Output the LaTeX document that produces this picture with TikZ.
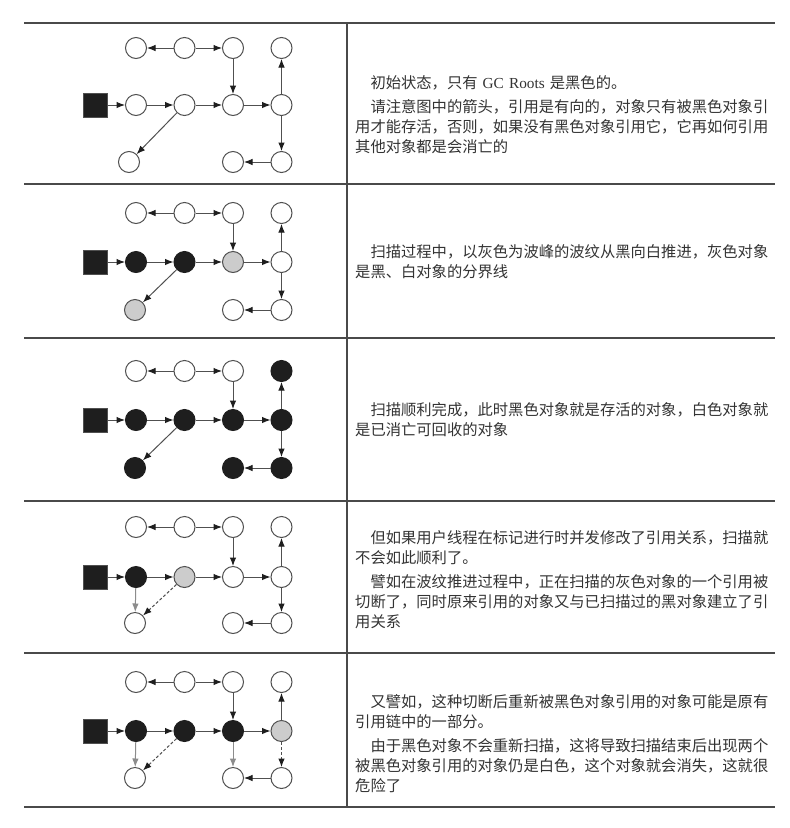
\documentclass[tikz,border=0pt]{standalone}
\usepackage{fontspec}
\setmainfont{Liberation Serif}
\newfontfamily\cjk{Noto Sans CJK SC}
\usetikzlibrary{arrows.meta}

\definecolor{rulegray}{HTML}{4A4A4A}
\definecolor{edgegray}{HTML}{505050}
\definecolor{newgray}{HTML}{8C8C8C}
\definecolor{objblack}{HTML}{1E1E1E}
\definecolor{objgray}{HTML}{CCCCCC}
\definecolor{textgray}{HTML}{333333}

\begin{document}
\begin{tikzpicture}[x=1pt, y=-1pt,
    obj/.style={circle, draw=edgegray, line width=1pt, minimum size=21pt, inner sep=0pt, fill=white},
    blackobj/.style={obj, fill=objblack, draw=objblack},
    grayobj/.style={obj, fill=objgray},
    root/.style={rectangle, draw=edgegray, fill=objblack, minimum size=24pt, inner sep=0pt, line width=0.6pt},
    ref/.style={draw=edgegray, line width=1pt, -{Latex[length=8.5pt, width=6.5pt, color=objblack]}},
    newref/.style={draw=newgray, line width=1pt, -{Latex[length=8.5pt, width=6.5pt]}},
    cutref/.style={ref, dash pattern=on 3pt off 2pt},
    note/.style={anchor=west, inner sep=0pt, text width=420pt, align=left, text=textgray,
      font={\cjk\fontsize{15.3pt}{20pt}\selectfont}}]
    \fill[white] (0,0) rectangle (790,828);
    \useasboundingbox (0,0) rectangle (790,828);

    % table rules
    \draw[rulegray, line width=2.2pt] (24,23) -- (775,23);
    \draw[rulegray, line width=1.4pt] (24,184) -- (775,184);
    \draw[rulegray, line width=1.4pt] (24,338) -- (775,338);
    \draw[rulegray, line width=1.4pt] (24,501) -- (775,501);
    \draw[rulegray, line width=1.4pt] (24,653) -- (775,653);
    \draw[rulegray, line width=2.2pt] (24,807) -- (775,807);
    \draw[rulegray, line width=1.2pt] (347,23) -- (347,807);

    % initial state
    \begin{scope}[name prefix=s1-]
    \node[root] (gc) at (95.5,105) {};
    \node[obj] (t1) at (136,48) {};
    \node[obj] (t2) at (184.5,48) {};
    \node[obj] (t3) at (233,48) {};
    \node[obj] (t4) at (281.5,48) {};
    \node[obj] (a1) at (136,105) {};
    \node[obj] (a2) at (184.5,105) {};
    \node[obj] (a3) at (233,105) {};
    \node[obj] (a4) at (281.5,105) {};
    \node[obj] (b1) at (129,162) {};
    \node[obj] (b3) at (233,162) {};
    \node[obj] (b4) at (281.5,162) {};
    \draw[ref] (gc) -- (a1);
    \draw[ref] (a1) -- (a2);
    \draw[ref] (a2) -- (a3);
    \draw[ref] (a3) -- (a4);
    \draw[ref] (t2) -- (t1);
    \draw[ref] (t2) -- (t3);
    \draw[ref] (t3) -- (a3);
    \draw[ref] (a4) -- (t4);
    \draw[ref] (a4) -- (b4);
    \draw[ref] (b4) -- (b3);
    \draw[ref] (a2) -- (b1);
    \node[note] (txt) at (355,115) {　初始状态，只有 {\rmfamily GC Roots} 是黑色的。\\[4pt]
      　请注意图中的箭头，引用是有向的，对象只有被黑色对象引\\
      用才能存活，否则，如果没有黑色对象引用它，它再如何引用\\
      其他对象都是会消亡的};
    \end{scope}

    % scanning
    \begin{scope}[name prefix=s2-]
    \node[root] (gc) at (95.5,262) {};
    \node[obj] (t1) at (136,213) {};
    \node[obj] (t2) at (184.5,213) {};
    \node[obj] (t3) at (233,213) {};
    \node[obj] (t4) at (281.5,213) {};
    \node[blackobj] (a1) at (136,262) {};
    \node[blackobj] (a2) at (184.5,262) {};
    \node[grayobj] (a3) at (233,262) {};
    \node[obj] (a4) at (281.5,262) {};
    \node[grayobj] (b1) at (135,310) {};
    \node[obj] (b3) at (233,310) {};
    \node[obj] (b4) at (281.5,310) {};
    \draw[ref] (gc) -- (a1);
    \draw[ref] (a1) -- (a2);
    \draw[ref] (a2) -- (a3);
    \draw[ref] (a3) -- (a4);
    \draw[ref] (t2) -- (t1);
    \draw[ref] (t2) -- (t3);
    \draw[ref] (t3) -- (a3);
    \draw[ref] (a4) -- (t4);
    \draw[ref] (a4) -- (b4);
    \draw[ref] (b4) -- (b3);
    \draw[ref] (a2) -- (b1);
    \node[note] (txt) at (355,262) {　扫描过程中，以灰色为波峰的波纹从黑向白推进，灰色对象\\
      是黑、白对象的分界线};
    \end{scope}

    % scan finished
    \begin{scope}[name prefix=s3-]
    \node[root] (gc) at (95.5,420) {};
    \node[obj] (t1) at (136,371) {};
    \node[obj] (t2) at (184.5,371) {};
    \node[obj] (t3) at (233,371) {};
    \node[blackobj] (t4) at (281.5,371) {};
    \node[blackobj] (a1) at (136,420) {};
    \node[blackobj] (a2) at (184.5,420) {};
    \node[blackobj] (a3) at (233,420) {};
    \node[blackobj] (a4) at (281.5,420) {};
    \node[blackobj] (b1) at (135,468) {};
    \node[blackobj] (b3) at (233,468) {};
    \node[blackobj] (b4) at (281.5,468) {};
    \draw[ref] (gc) -- (a1);
    \draw[ref] (a1) -- (a2);
    \draw[ref] (a2) -- (a3);
    \draw[ref] (a3) -- (a4);
    \draw[ref] (t2) -- (t1);
    \draw[ref] (t2) -- (t3);
    \draw[ref] (t3) -- (a3);
    \draw[ref] (a4) -- (t4);
    \draw[ref] (a4) -- (b4);
    \draw[ref] (b4) -- (b3);
    \draw[ref] (a2) -- (b1);
    \node[note] (txt) at (355,420) {　扫描顺利完成，此时黑色对象就是存活的对象，白色对象就\\
      是已消亡可回收的对象};
    \end{scope}

    % concurrent change
    \begin{scope}[name prefix=s4-]
    \node[root] (gc) at (95.5,577) {};
    \node[obj] (t1) at (136,527) {};
    \node[obj] (t2) at (184.5,527) {};
    \node[obj] (t3) at (233,527) {};
    \node[obj] (t4) at (281.5,527) {};
    \node[blackobj] (a1) at (136,577) {};
    \node[grayobj] (a2) at (184.5,577) {};
    \node[obj] (a3) at (233,577) {};
    \node[obj] (a4) at (281.5,577) {};
    \node[obj] (b1) at (135,623) {};
    \node[obj] (b3) at (233,623) {};
    \node[obj] (b4) at (281.5,623) {};
    \draw[ref] (gc) -- (a1);
    \draw[ref] (a1) -- (a2);
    \draw[ref] (a2) -- (a3);
    \draw[ref] (a3) -- (a4);
    \draw[ref] (t2) -- (t1);
    \draw[ref] (t2) -- (t3);
    \draw[ref] (t3) -- (a3);
    \draw[ref] (a4) -- (t4);
    \draw[ref] (a4) -- (b4);
    \draw[ref] (b4) -- (b3);
    \draw[newref] (a1) -- (b1);
    \draw[cutref] (a2) -- (b1);
    \node[note] (txt) at (355,580) {　但如果用户线程在标记进行时并发修改了引用关系，扫描就\\
      不会如此顺利了。\\[4pt]
      　譬如在波纹推进过程中，正在扫描的灰色对象的一个引用被\\
      切断了，同时原来引用的对象又与已扫描过的黑对象建立了引\\
      用关系};
    \end{scope}

    % lost object
    \begin{scope}[name prefix=s5-]
    \node[root] (gc) at (95.5,731) {};
    \node[obj] (t1) at (136,682) {};
    \node[obj] (t2) at (184.5,682) {};
    \node[obj] (t3) at (233,682) {};
    \node[obj] (t4) at (281.5,682) {};
    \node[blackobj] (a1) at (136,731) {};
    \node[blackobj] (a2) at (184.5,731) {};
    \node[blackobj] (a3) at (233,731) {};
    \node[grayobj] (a4) at (281.5,731) {};
    \node[obj] (b1) at (135,778) {};
    \node[obj] (b3) at (233,778) {};
    \node[obj] (b4) at (281.5,778) {};
    \draw[ref] (gc) -- (a1);
    \draw[ref] (a1) -- (a2);
    \draw[ref] (a2) -- (a3);
    \draw[ref] (a3) -- (a4);
    \draw[ref] (t2) -- (t1);
    \draw[ref] (t2) -- (t3);
    \draw[ref] (t3) -- (a3);
    \draw[ref] (a4) -- (t4);
    \draw[cutref] (a4) -- (b4);
    \draw[ref] (b4) -- (b3);
    \draw[newref] (a1) -- (b1);
    \draw[cutref] (a2) -- (b1);
    \draw[newref] (a3) -- (b3);
    \node[note] (txt) at (355,744) {　又譬如，这种切断后重新被黑色对象引用的对象可能是原有\\
      引用链中的一部分。\\[4pt]
      　由于黑色对象不会重新扫描，这将导致扫描结束后出现两个\\
      被黑色对象引用的对象仍是白色，这个对象就会消失，这就很\\
      危险了};
    \end{scope}
\end{tikzpicture}
\end{document}
